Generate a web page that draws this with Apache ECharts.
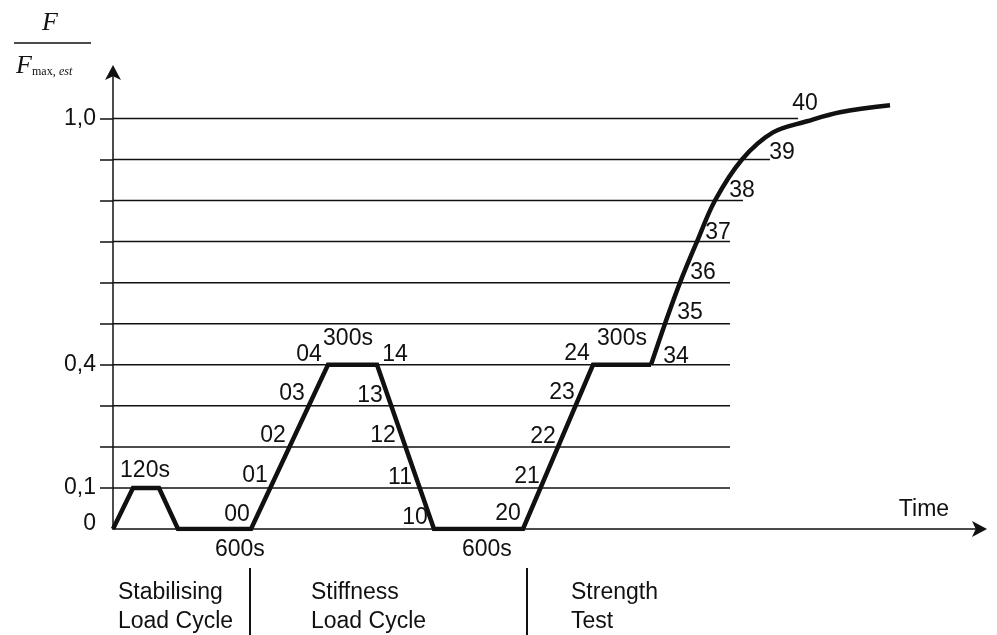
<!DOCTYPE html>
<html>
<head>
<meta charset="utf-8">
<script src="https://cdn.jsdelivr.net/npm/echarts@6/dist/echarts.min.js"></script>
<style>
  html, body { margin: 0; padding: 0; background: #fff; }
  #load-chart { width: 997px; height: 635px; }
</style>
</head>
<body>
<div id="load-chart"></div>
<script>
// Load path (time in arbitrary units, load as F / Fmax,est)
const pathTime = [0, 20, 46, 65, 138, 215, 264, 321, 410, 480, 538];
const pathLoad = [0, 0.1, 0.1, 0, 0, 0.4, 0.4, 0, 0, 0.4, 0.4];

// Curved part of the strength test (from point 34 on)
const curveTime = [538, 552, 567, 584, 602, 629, 660, 694, 727, 777];
const curveLoad = [0.4, 0.5, 0.6, 0.7, 0.8, 0.9, 0.966, 0.993, 1.015, 1.032];

// Horizontal load levels and where each line stops
const levelValues = [0.1, 0.2, 0.3, 0.4, 0.5, 0.6, 0.7, 0.8, 0.9, 1.0];
const levelEnds = [617, 617, 617, 617, 617, 617, 617, 630, 657, 685];

// Y tick labels
const yLabelValues = [0, 0.1, 0.4, 1.0];
const yLabelTexts = ["0", "0,1", "0,4", "1,0"];

// Step numbers and hold times written beside the path
const noteTexts = ["120s", "00", "01", "02", "03", "04", "300s", "14", "13", "12", "11", "10",
  "20", "21", "22", "23", "24", "300s", "34", "35", "36", "37", "38", "39", "40", "Time"];
const noteTime = [32, 124, 142, 160, 179, 196, 235, 282, 257, 270, 287, 302,
  395, 414, 430, 449, 464, 509, 563, 577, 590, 605, 629, 669, 692, 811];
const noteLoad = [0.141, 0.034, 0.129, 0.227, 0.329, 0.424, 0.463, 0.424, 0.324, 0.227, 0.124, 0.027,
  0.037, 0.127, 0.224, 0.332, 0.427, 0.463, 0.42, 0.527, 0.624, 0.722, 0.824, 0.917, 1.037, 0.047];

document.addEventListener("DOMContentLoaded", function () {
  const textFont = "Liberation Sans, Arial, sans-serif";
  const black = "#111";

  const levelSeries = levelValues.map((v, i) => ({
    type: "line",
    data: [[0, v], [levelEnds[i], v]],
    symbol: "none",
    silent: true,
    lineStyle: { color: black, width: 1.5 },
    z: 1,
  }));

  const option = {
    animation: false,
    backgroundColor: "#fff",
    grid: { left: 113, right: 17, top: 72, bottom: 106 },
    xAxis: {
      type: "value",
      min: 0,
      max: 867,
      axisLine: {
        symbol: ["none", "arrow"],
        symbolSize: [12, 15],
        symbolOffset: [0, 7],
        lineStyle: { color: black, width: 1.5 },
      },
      axisTick: { show: false },
      axisLabel: { show: false },
      splitLine: { show: false },
    },
    yAxis: {
      type: "value",
      min: 0,
      max: 1.113,
      axisLine: {
        show: true,
        symbol: ["none", "arrow"],
        symbolSize: [12, 15],
        symbolOffset: [0, 7],
        lineStyle: { color: black, width: 1.5 },
      },
      axisTick: {
        show: true,
        length: 13,
        customValues: levelValues,
        lineStyle: { color: black, width: 1.5 },
      },
      axisLabel: {
        margin: 17,
        customValues: yLabelValues,
        fontFamily: textFont,
        fontSize: 23,
        color: black,
        formatter: (v) => {
          const idx = yLabelValues.findIndex((y) => Math.abs(y - v) < 1e-6);
          if (idx === 0) return "{z|0}";
          return idx >= 0 ? yLabelTexts[idx] : "";
        },
        rich: {
          z: { fontFamily: textFont, fontSize: 23, color: black, padding: [0, 0, 10, 0] },
        },
      },
      splitLine: { show: false },
    },
    series: [
      ...levelSeries,
      {
        type: "line",
        data: pathTime.map((t, i) => [t, pathLoad[i]]),
        symbol: "none",
        lineStyle: { color: black, width: 4.5, join: "miter" },
        z: 3,
      },
      {
        type: "line",
        data: curveTime.map((t, i) => [t, curveLoad[i]]),
        symbol: "none",
        smooth: 0.35,
        lineStyle: { color: black, width: 4.5 },
        z: 3,
      },
      {
        type: "scatter",
        data: noteTexts.map((n, i) => ({ name: n, value: [noteTime[i], noteLoad[i]] })),
        symbolSize: 0,
        silent: true,
        itemStyle: { opacity: 1 },
        label: {
          show: true,
          position: "inside",
          formatter: "{b}",
          fontFamily: textFont,
          fontSize: 23,
          color: black,
          opacity: 1,
        },
        z: 4,
      },
    ],
    graphic: [
      // y axis title: F / F_max,est
      { type: "text", left: 42, top: 10, style: { text: "F", font: "italic 26px Liberation Serif", fill: black } },
      { type: "line", shape: { x1: 14, y1: 43, x2: 91, y2: 43 }, style: { stroke: black, lineWidth: 1.5 } },
      { type: "text", left: 16, top: 53, style: { text: "F", font: "italic 26px Liberation Serif", fill: black } },
      {
        type: "text",
        left: 32,
        top: 66,
        style: {
          text: "{a|max,} {b|est}",
          rich: {
            a: { font: "12px Liberation Serif", fill: black },
            b: { font: "italic 12px Liberation Serif", fill: black },
          },
        },
      },
      // hold times under the axis
      { type: "text", left: 215, top: 538, style: { text: "600s", font: "23px " + textFont, fill: black } },
      { type: "text", left: 462, top: 538, style: { text: "600s", font: "23px " + textFont, fill: black } },
      // phase captions
      { type: "text", left: 118, top: 578, style: { text: "Stabilising\nLoad Cycle", font: "23px " + textFont, fill: black, lineHeight: 29 } },
      { type: "text", left: 311, top: 578, style: { text: "Stiffness\nLoad Cycle", font: "23px " + textFont, fill: black, lineHeight: 29 } },
      { type: "text", left: 571, top: 578, style: { text: "Strength\nTest", font: "23px " + textFont, fill: black, lineHeight: 29 } },
      { type: "line", shape: { x1: 250, y1: 568, x2: 250, y2: 635 }, style: { stroke: black, lineWidth: 2 } },
      { type: "line", shape: { x1: 527, y1: 568, x2: 527, y2: 635 }, style: { stroke: black, lineWidth: 2 } },
    ],
  };

  const chart = echarts.init(document.getElementById("load-chart"));
  chart.setOption(option);
  window.addEventListener("resize", () => chart.resize());
});
</script>
</body>
</html>
